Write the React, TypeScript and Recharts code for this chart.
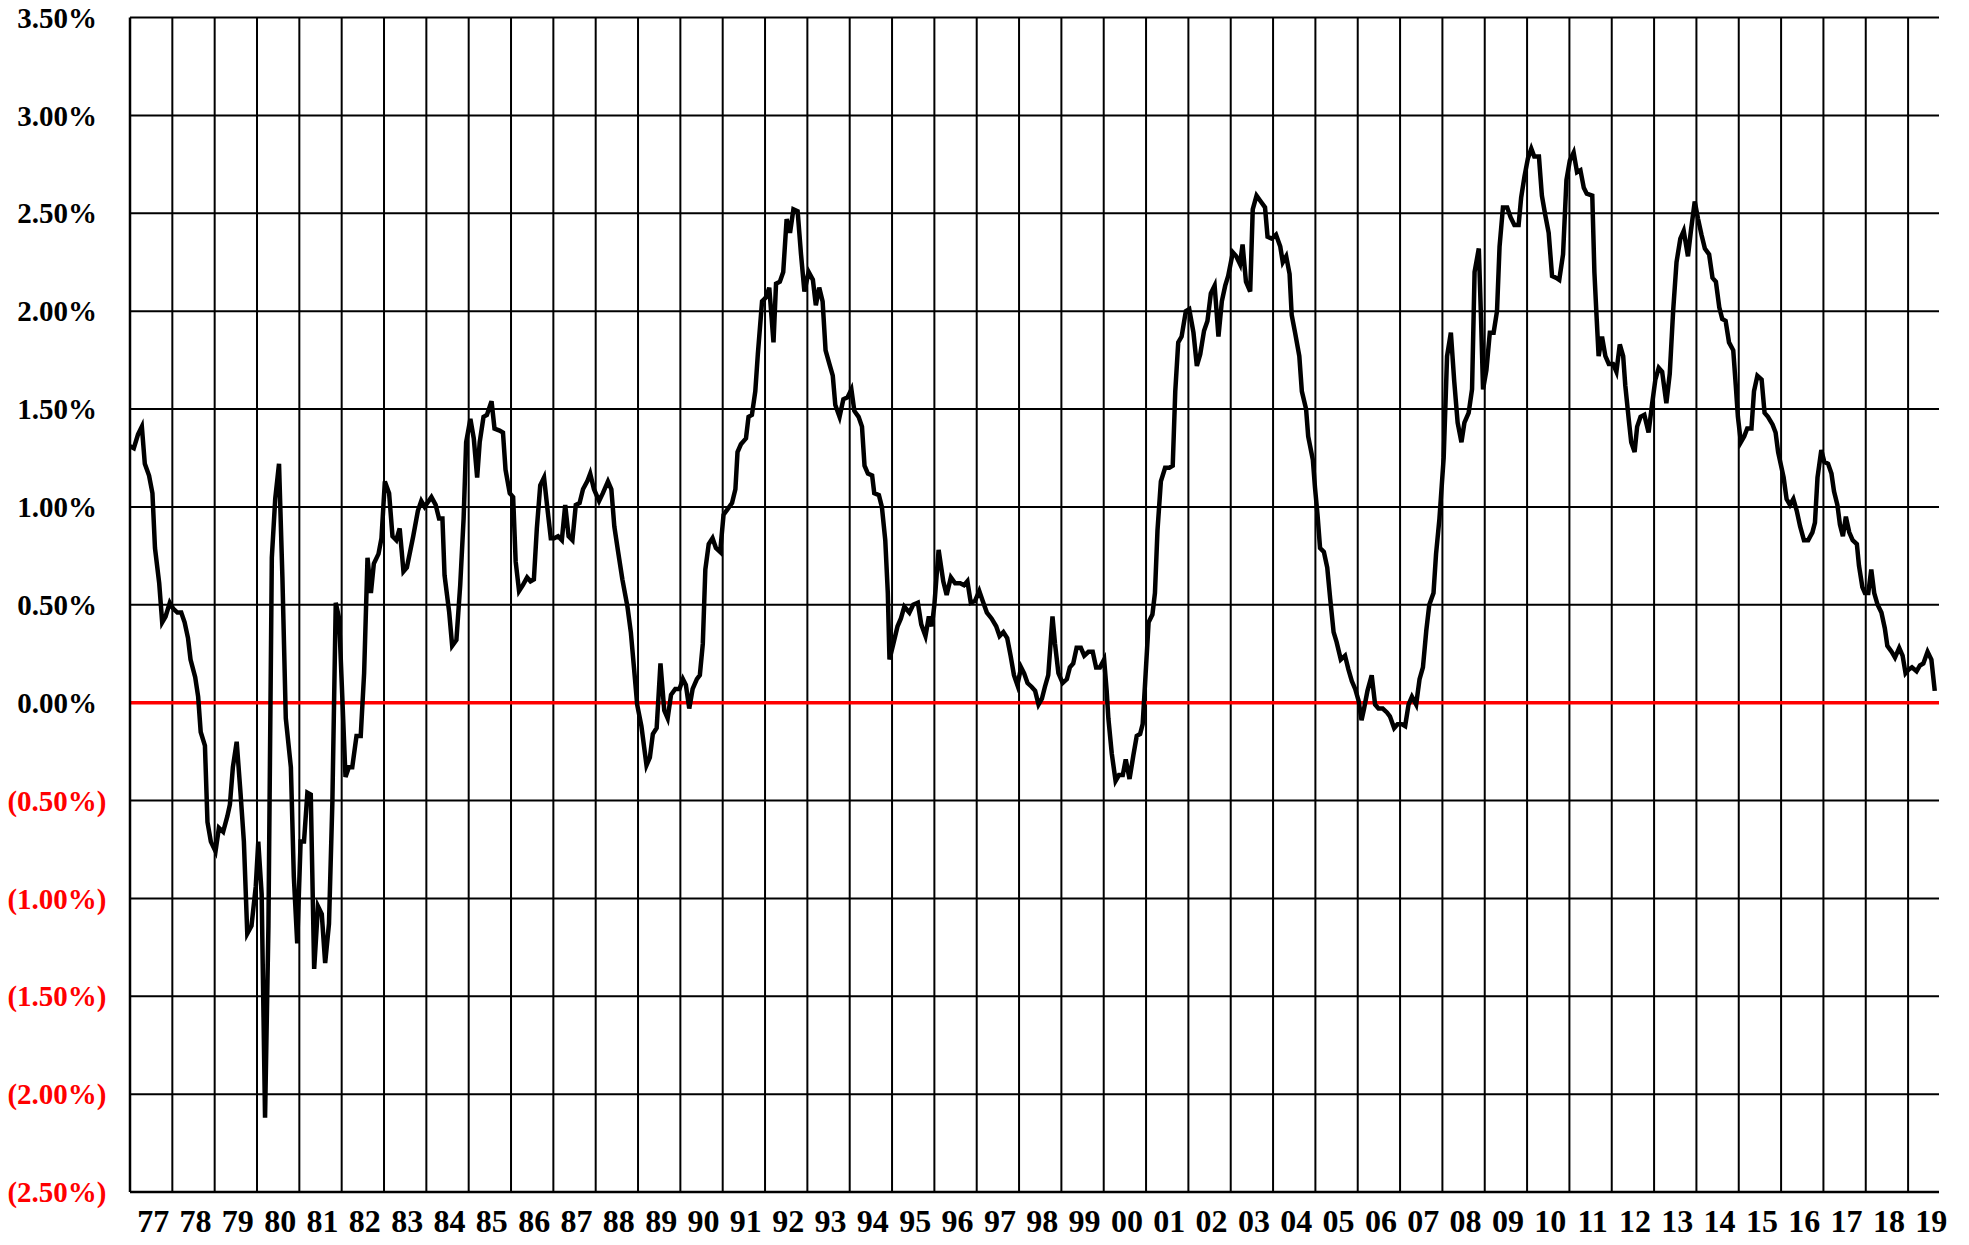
// modules
import { LineChart, Line, XAxis, YAxis, CartesianGrid, ReferenceLine } from "recharts";


// spread readings, [decimal year, percent]
const spread1977to1983: [number, number][] = [
  [1977.00, 1.31], [1977.09, 1.30], [1977.19, 1.37], [1977.28, 1.41], [1977.35, 1.22], [1977.45, 1.16],
  [1977.53, 1.07], [1977.59, 0.79], [1977.69, 0.61], [1977.76, 0.41], [1977.84, 0.44], [1977.94, 0.51],
  [1978.02, 0.48], [1978.12, 0.46], [1978.21, 0.46], [1978.29, 0.41], [1978.37, 0.33], [1978.43, 0.22],
  [1978.54, 0.13], [1978.61, 0.03], [1978.67, -0.15], [1978.77, -0.22], [1978.83, -0.61], [1978.91, -0.71],
  [1979.02, -0.76], [1979.10, -0.64], [1979.20, -0.66], [1979.30, -0.58], [1979.36, -0.52], [1979.43, -0.33],
  [1979.52, -0.20], [1979.61, -0.46], [1979.69, -0.71], [1979.77, -1.18], [1979.87, -1.14], [1979.97, -0.94],
  [1980.03, -0.71], [1980.11, -0.98], [1980.19, -2.12], [1980.27, -1.14], [1980.35, 0.74], [1980.43, 1.04],
  [1980.52, 1.22], [1980.60, 0.64], [1980.68, -0.08], [1980.80, -0.33], [1980.87, -0.89], [1980.95, -1.23],
  [1981.03, -0.71], [1981.11, -0.71], [1981.19, -0.46], [1981.27, -0.47], [1981.35, -1.36], [1981.44, -1.04],
  [1981.53, -1.08], [1981.61, -1.33], [1981.70, -1.13], [1981.78, -0.51], [1981.86, 0.51], [1981.94, 0.43],
  [1982.02, 0.00], [1982.09, -0.38], [1982.17, -0.33], [1982.25, -0.33], [1982.35, -0.17], [1982.45, -0.17],
  [1982.53, 0.15], [1982.61, 0.74], [1982.69, 0.56], [1982.76, 0.71], [1982.87, 0.76], [1982.94, 0.84],
  [1983.02, 1.13], [1983.12, 1.07], [1983.20, 0.85], [1983.29, 0.83],
];

const spread1983to1989: [number, number][] = [
  [1983.37, 0.89], [1983.46, 0.67], [1983.54, 0.69], [1983.69, 0.85], [1983.80, 0.98], [1983.88, 1.03],
  [1983.96, 1.00], [1984.12, 1.05], [1984.22, 1.01], [1984.30, 0.94], [1984.38, 0.94], [1984.43, 0.65],
  [1984.54, 0.46], [1984.61, 0.29], [1984.71, 0.32], [1984.80, 0.60], [1984.88, 0.94], [1984.94, 1.33],
  [1985.04, 1.45], [1985.12, 1.35], [1985.20, 1.15], [1985.26, 1.33], [1985.35, 1.46], [1985.43, 1.47],
  [1985.54, 1.54], [1985.61, 1.40], [1985.73, 1.39], [1985.81, 1.38], [1985.87, 1.19], [1985.97, 1.07],
  [1986.05, 1.05], [1986.11, 0.72], [1986.19, 0.57], [1986.28, 0.60], [1986.38, 0.64], [1986.46, 0.62],
  [1986.54, 0.63], [1986.61, 0.89], [1986.69, 1.11], [1986.78, 1.15], [1986.86, 0.99], [1986.94, 0.84],
  [1987.02, 0.84], [1987.11, 0.85], [1987.20, 0.83], [1987.28, 1.01], [1987.36, 0.85], [1987.45, 0.83],
  [1987.53, 1.01], [1987.62, 1.02], [1987.70, 1.09], [1987.80, 1.13], [1987.87, 1.17], [1987.96, 1.09],
  [1988.08, 1.03], [1988.17, 1.07], [1988.29, 1.13], [1988.37, 1.09], [1988.44, 0.90], [1988.53, 0.77],
  [1988.63, 0.63], [1988.75, 0.49], [1988.83, 0.36], [1988.92, 0.14], [1988.98, -0.01], [1989.08, -0.12],
  [1989.20, -0.32], [1989.28, -0.28],
];

const spread1989to1996: [number, number][] = [
  [1989.35, -0.16], [1989.44, -0.13], [1989.53, 0.20], [1989.62, -0.04], [1989.70, -0.08], [1989.78, 0.04],
  [1989.88, 0.07], [1989.98, 0.07], [1990.06, 0.12], [1990.13, 0.09], [1990.21, -0.03], [1990.29, 0.07],
  [1990.39, 0.12], [1990.46, 0.14], [1990.53, 0.30], [1990.59, 0.68], [1990.67, 0.81], [1990.76, 0.84],
  [1990.84, 0.79], [1990.94, 0.77], [1991.02, 0.96], [1991.12, 0.99], [1991.22, 1.02], [1991.30, 1.09],
  [1991.35, 1.28], [1991.43, 1.32], [1991.55, 1.35], [1991.61, 1.46], [1991.69, 1.47], [1991.77, 1.59],
  [1991.83, 1.78], [1991.93, 2.05], [1992.02, 2.07], [1992.10, 2.12], [1992.20, 1.84], [1992.26, 2.14],
  [1992.35, 2.15], [1992.43, 2.20], [1992.51, 2.47], [1992.59, 2.40], [1992.67, 2.52], [1992.77, 2.51],
  [1992.85, 2.29], [1992.93, 2.10], [1993.03, 2.20], [1993.13, 2.16], [1993.20, 2.03], [1993.28, 2.12],
  [1993.36, 2.05], [1993.43, 1.80], [1993.52, 1.73], [1993.60, 1.67], [1993.66, 1.52], [1993.76, 1.46],
  [1993.85, 1.55], [1993.95, 1.56], [1994.04, 1.60], [1994.11, 1.49], [1994.21, 1.46], [1994.29, 1.41],
  [1994.35, 1.21], [1994.43, 1.17], [1994.53, 1.16], [1994.58, 1.07], [1994.69, 1.06], [1994.76, 1.00],
  [1994.84, 0.83], [1994.90, 0.56], [1994.94, 0.22], [1995.03, 0.30], [1995.13, 0.39], [1995.21, 0.43],
  [1995.29, 0.49], [1995.41, 0.46], [1995.50, 0.50], [1995.61, 0.51], [1995.69, 0.40], [1995.79, 0.34],
  [1995.87, 0.44], [1995.94, 0.39], [1996.00, 0.50], [1996.10, 0.78],
];

const spread1996to2002: [number, number][] = [
  [1996.21, 0.62], [1996.29, 0.55], [1996.39, 0.64], [1996.49, 0.61], [1996.61, 0.61], [1996.70, 0.60],
  [1996.78, 0.62], [1996.86, 0.51], [1996.96, 0.52], [1997.06, 0.57], [1997.14, 0.52], [1997.24, 0.46],
  [1997.35, 0.43], [1997.46, 0.39], [1997.54, 0.34], [1997.63, 0.36], [1997.72, 0.33], [1997.80, 0.24],
  [1997.88, 0.14], [1997.96, 0.09], [1998.05, 0.18], [1998.12, 0.15], [1998.20, 0.10], [1998.30, 0.08],
  [1998.38, 0.06], [1998.46, -0.01], [1998.54, 0.02], [1998.61, 0.08], [1998.69, 0.14], [1998.79, 0.44],
  [1998.85, 0.30], [1998.93, 0.15], [1999.03, 0.10], [1999.13, 0.12], [1999.20, 0.18], [1999.28, 0.20],
  [1999.36, 0.28], [1999.46, 0.28], [1999.54, 0.24], [1999.64, 0.26], [1999.74, 0.26], [1999.82, 0.18],
  [1999.91, 0.18], [2000.01, 0.22], [2000.07, 0.06], [2000.11, -0.08], [2000.19, -0.26], [2000.28, -0.40],
  [2000.36, -0.37], [2000.45, -0.37], [2000.52, -0.29], [2000.61, -0.39], [2000.70, -0.27], [2000.78, -0.17],
  [2000.86, -0.16], [2000.92, -0.11], [2000.98, 0.11], [2001.06, 0.41], [2001.15, 0.45], [2001.21, 0.56],
  [2001.27, 0.88], [2001.35, 1.13], [2001.45, 1.20], [2001.55, 1.20], [2001.63, 1.21], [2001.69, 1.59],
  [2001.76, 1.84], [2001.84, 1.87], [2001.94, 2.00], [2002.02, 2.01],
];

const spread2002to2008: [number, number][] = [
  [2002.12, 1.89], [2002.20, 1.72], [2002.28, 1.78], [2002.37, 1.90], [2002.45, 1.95], [2002.53, 2.09],
  [2002.62, 2.13], [2002.71, 1.87], [2002.79, 2.05], [2002.87, 2.13], [2002.94, 2.18], [2003.05, 2.30],
  [2003.13, 2.28], [2003.22, 2.24], [2003.28, 2.34], [2003.36, 2.15], [2003.46, 2.10], [2003.52, 2.52],
  [2003.61, 2.59], [2003.71, 2.56], [2003.81, 2.53], [2003.87, 2.38], [2003.97, 2.37], [2004.07, 2.39],
  [2004.17, 2.33], [2004.23, 2.25], [2004.31, 2.28], [2004.39, 2.19], [2004.44, 1.98], [2004.52, 1.89],
  [2004.62, 1.77], [2004.68, 1.59], [2004.78, 1.50], [2004.83, 1.36], [2004.94, 1.24], [2004.99, 1.10],
  [2005.05, 0.96], [2005.11, 0.79], [2005.20, 0.77], [2005.28, 0.69], [2005.35, 0.53], [2005.43, 0.36],
  [2005.50, 0.31], [2005.60, 0.22], [2005.70, 0.24], [2005.78, 0.17], [2005.86, 0.11], [2005.94, 0.07],
  [2006.02, 0.01], [2006.09, -0.09], [2006.15, -0.03], [2006.23, 0.06], [2006.33, 0.14], [2006.41, -0.01],
  [2006.49, -0.03], [2006.59, -0.03], [2006.69, -0.05], [2006.76, -0.07], [2006.86, -0.13], [2006.94, -0.11],
  [2007.04, -0.11], [2007.12, -0.12], [2007.20, -0.01], [2007.28, 0.03], [2007.38, -0.01], [2007.46, 0.12],
  [2007.54, 0.18], [2007.62, 0.37], [2007.69, 0.50], [2007.79, 0.56], [2007.85, 0.76], [2007.93, 0.94],
];

const spread2008to2014: [number, number][] = [
  [2008.03, 1.25], [2008.11, 1.77], [2008.20, 1.89], [2008.28, 1.64], [2008.36, 1.43], [2008.45, 1.33],
  [2008.52, 1.43], [2008.62, 1.48], [2008.70, 1.60], [2008.76, 2.20], [2008.86, 2.32], [2008.91, 1.98],
  [2008.96, 1.60], [2009.04, 1.70], [2009.12, 1.89], [2009.21, 1.89], [2009.29, 2.00], [2009.35, 2.33],
  [2009.43, 2.53], [2009.53, 2.53], [2009.61, 2.48], [2009.70, 2.44], [2009.80, 2.44], [2009.86, 2.58],
  [2009.94, 2.69], [2010.02, 2.78], [2010.10, 2.83], [2010.17, 2.79], [2010.28, 2.79], [2010.35, 2.59],
  [2010.43, 2.49], [2010.51, 2.40], [2010.59, 2.18], [2010.69, 2.17], [2010.76, 2.16], [2010.85, 2.29],
  [2010.93, 2.67], [2011.01, 2.77], [2011.10, 2.81], [2011.18, 2.71], [2011.26, 2.72], [2011.34, 2.63],
  [2011.41, 2.60], [2011.54, 2.59], [2011.59, 2.20], [2011.64, 1.98], [2011.69, 1.77], [2011.77, 1.87],
  [2011.85, 1.77], [2011.93, 1.73], [2012.03, 1.73], [2012.11, 1.69], [2012.19, 1.83], [2012.27, 1.77],
  [2012.32, 1.62], [2012.40, 1.45], [2012.46, 1.33], [2012.54, 1.28], [2012.60, 1.41], [2012.68, 1.46],
  [2012.77, 1.47], [2012.87, 1.38], [2012.95, 1.52], [2013.03, 1.65], [2013.11, 1.71], [2013.19, 1.69],
  [2013.29, 1.53], [2013.37, 1.68], [2013.45, 2.00], [2013.53, 2.25], [2013.62, 2.37], [2013.70, 2.41],
  [2013.80, 2.28], [2013.87, 2.41],
];

const spread2014to2019: [number, number][] = [
  [2013.96, 2.56], [2014.04, 2.47], [2014.12, 2.39], [2014.20, 2.32], [2014.30, 2.29], [2014.38, 2.17],
  [2014.46, 2.15], [2014.54, 2.02], [2014.61, 1.96], [2014.69, 1.95], [2014.77, 1.84], [2014.87, 1.80],
  [2014.93, 1.62], [2014.98, 1.46], [2015.05, 1.33], [2015.13, 1.36], [2015.20, 1.40], [2015.30, 1.40],
  [2015.36, 1.59], [2015.44, 1.67], [2015.54, 1.65], [2015.61, 1.48], [2015.69, 1.46], [2015.80, 1.42],
  [2015.87, 1.38], [2015.93, 1.28], [2016.00, 1.21], [2016.06, 1.15], [2016.13, 1.04], [2016.21, 1.01],
  [2016.29, 1.04], [2016.37, 0.98], [2016.45, 0.90], [2016.54, 0.83], [2016.64, 0.83], [2016.74, 0.87],
  [2016.80, 0.92], [2016.86, 1.15], [2016.95, 1.29], [2017.02, 1.23], [2017.11, 1.22], [2017.19, 1.17],
  [2017.25, 1.08], [2017.33, 1.01], [2017.39, 0.91], [2017.46, 0.85], [2017.53, 0.95], [2017.61, 0.87],
  [2017.69, 0.83], [2017.79, 0.81], [2017.84, 0.70], [2017.92, 0.59], [2017.98, 0.56], [2018.06, 0.56],
  [2018.13, 0.68], [2018.20, 0.56], [2018.28, 0.50], [2018.37, 0.46], [2018.45, 0.38], [2018.51, 0.29],
  [2018.61, 0.26], [2018.69, 0.23], [2018.79, 0.28], [2018.87, 0.24], [2018.94, 0.15], [2019.02, 0.17],
  [2019.09, 0.18], [2019.20, 0.16], [2019.28, 0.19], [2019.36, 0.20], [2019.46, 0.26], [2019.55, 0.22],
  [2019.63, 0.06],
];

// axes
const yearLabels = [
  "77", "78", "79", "80", "81", "82", "83", "84", "85", "86", "87", "88", "89", "90", "91",
  "92", "93", "94", "95", "96", "97", "98", "99", "00", "01", "02", "03", "04", "05", "06",
  "07", "08", "09", "10", "11", "12", "13", "14", "15", "16", "17", "18", "19",
];
const firstYear = 1977;
const lastDate = 2019.73;
const percentTicks = [-2.5, -2, -1.5, -1, -0.5, 0, 0.5, 1, 1.5, 2, 2.5, 3, 3.5];

const serif = "'Liberation Serif', 'Times New Roman', serif";


const chartData = [
  ...spread1977to1983,
  ...spread1983to1989,
  ...spread1989to1996,
  ...spread1996to2002,
  ...spread2002to2008,
  ...spread2008to2014,
  ...spread2014to2019,
].map(([t, v]) => ({ t, v }));

const labelTicks = yearLabels.map((_, i) => firstYear + i + 0.5);
const yearLines = yearLabels.slice(1).map((_, i) => firstYear + i + 1);


function PercentTick({ x, y, payload }: any) {
  const value: number = payload.value;
  const text = value < 0 ? `(${Math.abs(value).toFixed(2)}%)` : `${value.toFixed(2)}%`;
  return (
    <text
      x={x - 65}
      y={y}
      dy="0.35em"
      textAnchor="middle"
      fill={value < 0 ? "#ff0000" : "#000000"}
      fontFamily={serif}
      fontWeight={700}
      fontSize={29}
    >
      {text}
    </text>
  );
}

function YearTick({ x, y, payload }: any) {
  const index = Math.round(payload.value - firstYear - 0.5);
  return (
    <text
      x={x + 2}
      y={y + 32}
      textAnchor="middle"
      fill="#000000"
      fontFamily={serif}
      fontWeight={700}
      fontSize={32}
    >
      {yearLabels[index]}
    </text>
  );
}


export default function App() {
  return (
    <div style={{ position: "absolute", left: 0, top: 0, background: "#ffffff" }}>
      <LineChart
        width={1969}
        height={1245}
        data={chartData}
        margin={{ top: 17.5, right: 30, left: 0, bottom: 0 }}
      >
        <CartesianGrid vertical={false} stroke="#000000" strokeWidth={2} strokeOpacity={1} />
        {yearLines.map(year => (
          <ReferenceLine key={year} x={year} stroke="#000000" strokeWidth={2} />
        ))}
        <XAxis
          dataKey="t"
          type="number"
          domain={[firstYear, lastDate]}
          ticks={labelTicks}
          tick={<YearTick />}
          tickLine={false}
          axisLine={{ stroke: "#000000", strokeWidth: 2.5 }}
          height={53}
          interval={0}
          allowDataOverflow
        />
        <YAxis
          type="number"
          domain={[-2.5, 3.5]}
          ticks={percentTicks}
          tick={<PercentTick />}
          tickLine={false}
          axisLine={{ stroke: "#000000", strokeWidth: 2.5 }}
          width={130}
          interval={0}
        />
        <YAxis
          yAxisId="right"
          orientation="right"
          type="number"
          domain={[-2.5, 3.5]}
          tick={false}
          tickLine={false}
          axisLine={{ stroke: "#000000", strokeWidth: 2.5 }}
          width={0}
        />
        <ReferenceLine y={0} stroke="#ff0000" strokeWidth={3.5} />
        <Line
          dataKey="v"
          type="linear"
          stroke="#000000"
          strokeWidth={4.5}
          dot={false}
          isAnimationActive={false}
        />
      </LineChart>
    </div>
  );
}
